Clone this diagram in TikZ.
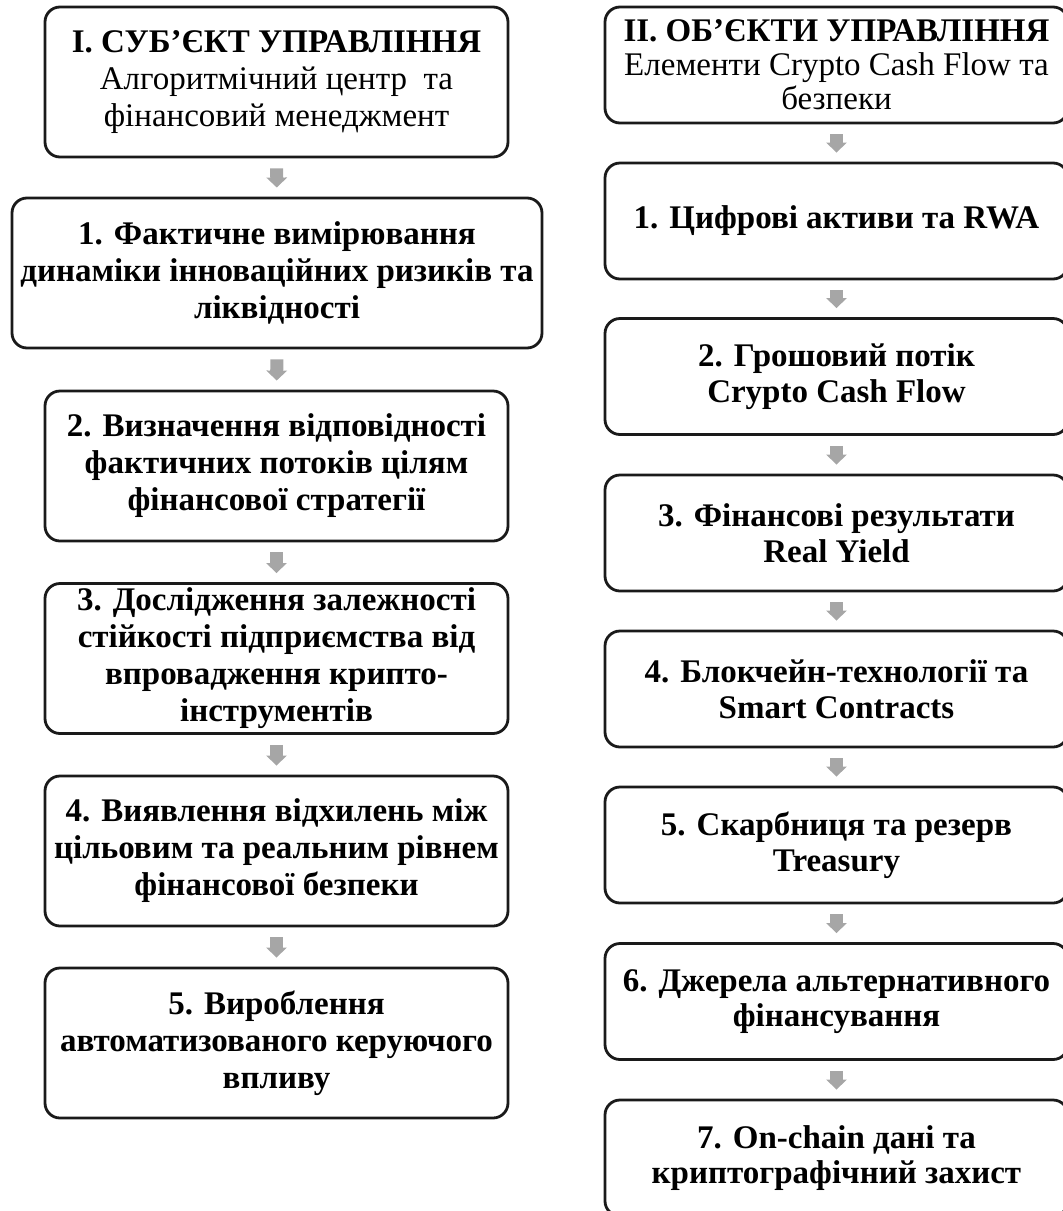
\documentclass[tikz,border=0pt]{standalone}
\usepackage{fontspec}
\setmainfont{Liberation Serif}
\usetikzlibrary{arrows.meta}
\definecolor{edgecol}{HTML}{1A1A1A}
\definecolor{arrowgray}{HTML}{A6A6A6}
\begin{document}
\begin{tikzpicture}[x=1pt,y=-1pt,
  box/.style={draw=edgecol, line width=2.8pt, rounded corners=15pt, fill=white,
    align=center, inner sep=0pt, font=\fontsize{33}{37}\selectfont\bfseries},
  lbox/.style={box, minimum width=463pt, minimum height=150pt},
  rbox/.style={box, minimum width=463pt, minimum height=116pt,
    font=\fontsize{33}{35.5}\selectfont\bfseries},
  flow/.style={draw=arrowgray, line width=13pt, shorten <=10pt, shorten >=9pt,
    -{Triangle[width=20pt,length=10pt]}}
]
\useasboundingbox (0,0) rectangle (1063,1211);
\clip (0,0) rectangle (1063,1211);

% left column
\node[lbox] (s) at (276.5,82)
  {І. СУБ’ЄКТ УПРАВЛІННЯ\\{\mdseries Алгоритмічний центр\ \ та}\\{\mdseries фінансовий менеджмент}};
\node[lbox, minimum width=530pt] (l1) at (277,273)
  {1. Фактичне вимірювання\\динаміки інноваційних ризиків та\\ліквідності};
\node[lbox] (l2) at (276.5,466)
  {2. Визначення відповідності\\фактичних потоків цілям\\фінансової стратегії};
\node[lbox] (l3) at (276.5,658.5)
  {3. Дослідження залежності\\стійкості підприємства від\\впровадження крипто-\\інструментів};
\node[lbox] (l4) at (276.5,851)
  {4. Виявлення відхилень між\\цільовим та реальним рівнем\\фінансової безпеки};
\node[lbox] (l5) at (276.5,1043)
  {5. Вироблення\\автоматизованого керуючого\\впливу};

% right column
\node[rbox, font=\fontsize{33}{34}\selectfont\bfseries] (o) at (836.5,65)
  {ІІ. ОБ’ЄКТИ УПРАВЛІННЯ\\{\mdseries Елементи Crypto Cash Flow та}\\{\mdseries безпеки}};
\node[rbox] (r1) at (836.5,221) {1. Цифрові активи та RWA};
\node[rbox] (r2) at (836.5,376.5) {2. Грошовий потік\\Crypto Cash Flow};
\node[rbox] (r3) at (836.5,533) {3. Фінансові результати\\Real Yield};
\node[rbox] (r4) at (836.5,689) {4. Блокчейн-технології та\\Smart Contracts};
\node[rbox] (r5) at (836.5,845) {5. Скарбниця та резерв\\Treasury};
\node[rbox] (r6) at (836.5,1001.5) {6. Джерела альтернативного\\фінансування};
\node[rbox] (r7) at (836.5,1158) {7. On-chain дані та\\криптографічний захист};

% connectors
\draw[flow] (s.south) -- (l1.north);
\draw[flow] (l1.south) -- (l2.north);
\draw[flow] (l2.south) -- (l3.north);
\draw[flow] (l3.south) -- (l4.north);
\draw[flow] (l4.south) -- (l5.north);
\draw[flow] (o.south) -- (r1.north);
\draw[flow] (r1.south) -- (r2.north);
\draw[flow] (r2.south) -- (r3.north);
\draw[flow] (r3.south) -- (r4.north);
\draw[flow] (r4.south) -- (r5.north);
\draw[flow] (r5.south) -- (r6.north);
\draw[flow] (r6.south) -- (r7.north);
\end{tikzpicture}
\end{document}
